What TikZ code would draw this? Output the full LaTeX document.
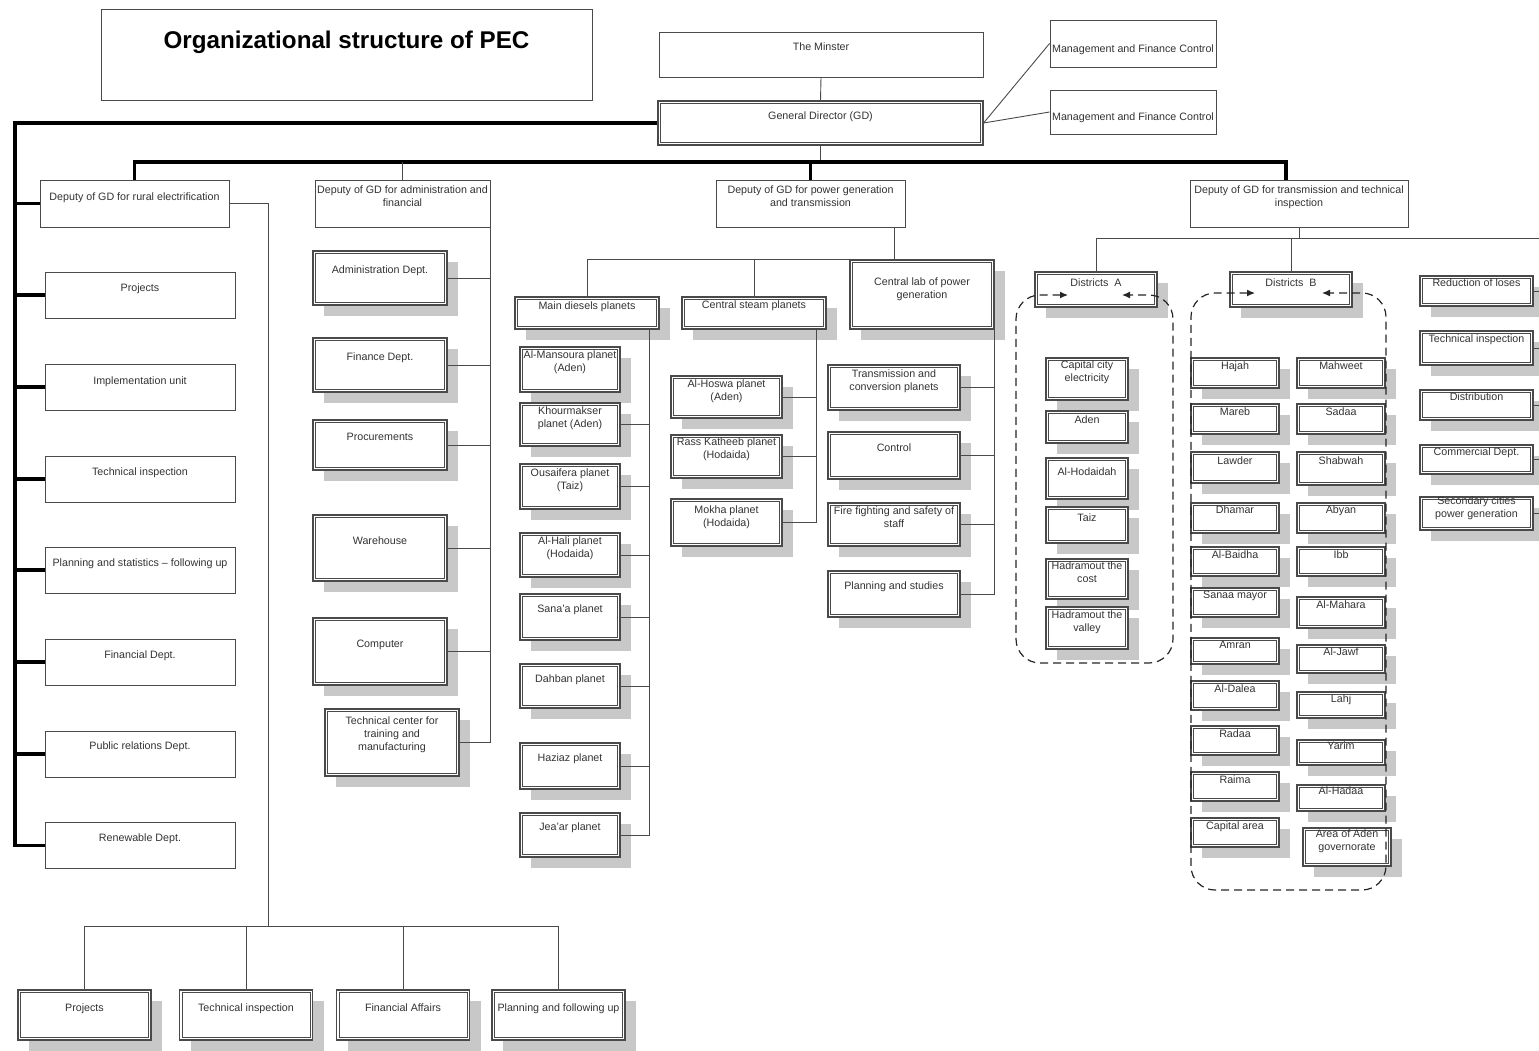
\documentclass[tikz,border=0pt]{standalone}
\usepackage{fontspec}
\setmainfont{Liberation Sans}
\usetikzlibrary{shadows,arrows.meta}

\definecolor{txtgray}{HTML}{333333}
\definecolor{linegray}{HTML}{4A4A4A}
\definecolor{shadegray}{HTML}{C8C8C8}
\newcommand{\unitfont}{\fontsize{10.7}{13}\selectfont}

\tikzset{
  lbl/.style={anchor=north, align=center, inner sep=0pt, text=txtgray, font=\unitfont},
  tx/.style 2 args={label={[lbl, yshift=-#1pt]north:{#2}}},
  plain/.style={draw=linegray, line width=0.9pt, fill=white, inner sep=0pt},
  twin/.style={draw=linegray, line width=1.1pt, fill=white, inner sep=0pt,
    path picture={\draw[linegray, line width=0.7pt]
      ([xshift=2.4pt, yshift=-2.4pt]path picture bounding box.north west) rectangle
      ([xshift=-2.4pt, yshift=2.4pt]path picture bounding box.south east);}},
  unit/.style={twin, drop shadow={shadow xshift=11pt, shadow yshift=-11pt, fill=shadegray, opacity=1}},
  ruralunit/.style={plain, minimum width=190, minimum height=46},
  admunit/.style={unit, minimum width=134},
  dieselunit/.style={unit, minimum width=100},
  steamunit/.style={unit, minimum width=111},
  labunit/.style={unit, minimum width=132},
  distAunit/.style={unit, minimum width=82},
  distBunit/.style={unit, minimum width=88, minimum height=30},
  rightunit/.style={unit, minimum width=113},
  lowunit/.style={unit, minimum width=133, minimum height=50},
  conn/.style={draw=linegray, line width=0.9pt},
  trunk/.style={draw=black, line width=3.6pt},
  group/.style={draw=black!85, line width=1.2pt, dash pattern=on 8pt off 5pt, rounded corners=24pt,
    {Latex[length=8pt,width=7pt]}-{Latex[length=8pt,width=7pt]}},
}

\begin{document}
\begin{tikzpicture}[x=1pt, y=-1pt]
\useasboundingbox (0,0) rectangle (1539,1050);

% top of the chart
\node[plain, minimum width=491, minimum height=91,
  label={[lbl, font=\fontsize{24.2}{28}\selectfont\bfseries, text=black, yshift=-22pt]north:Organizational structure of PEC}] (Title) at (346.5,54.5) {};
\node[plain, minimum width=324, minimum height=45, tx={11}{The Minster}] (Minster) at (821,54.5) {};
\node[twin, minimum width=325, minimum height=44, tx={11}{General Director (GD)}] (GD) at (820.5,123) {};
\node[plain, minimum width=166, minimum height=47, tx={25}{Management and Finance Control}] (Control A) at (1133,43.5) {};
\node[plain, minimum width=166, minimum height=44, tx={23}{Management and Finance Control}] (Control B) at (1133,112) {};

% deputies
\node[plain, minimum width=189, minimum height=47, tx={13}{Deputy of GD for rural electrification}] (Rural Deputy) at (134.5,203.5) {};
\node[plain, minimum width=175, minimum height=47, tx={6}{Deputy of GD for administration and\\financial}] (Admin Deputy) at (402.5,203.5) {};
\node[plain, minimum width=189, minimum height=47, tx={6}{Deputy of GD for power generation\\and transmission}] (Power Deputy) at (810.5,203.5) {};
\node[plain, minimum width=218, minimum height=47, tx={6}{Deputy of GD for transmission and technical\\inspection}] (Grid Deputy) at (1299,203.5) {};

% rural electrification
\node[ruralunit, tx={12}{Projects}] (Rural Projects) at (140,295) {};
\node[ruralunit, tx={13}{Implementation unit}] (Implementation) at (140,387) {};
\node[ruralunit, tx={12}{Technical inspection}] (Rural Inspection) at (140,479) {};
\node[ruralunit, tx={12}{Planning and statistics – following up}] (Rural Planning) at (140,570) {};
\node[ruralunit, tx={12}{Financial Dept.}] (Rural Finance) at (140,662) {};
\node[ruralunit, tx={11}{Public relations Dept.}] (Public Relations) at (140,754) {};
\node[ruralunit, tx={11}{Renewable Dept.}] (Renewable) at (140,845.5) {};

\node[lowunit, tx={14}{Projects}] (Low Projects) at (84.5,1015) {};
\node[lowunit, tx={14}{Technical inspection}] (Low Inspection) at (246,1015) {};
\node[lowunit, tx={14}{Financial Affairs}] (Financial Affairs) at (403,1015) {};
\node[lowunit, tx={14}{Planning and following up}] (Low Planning) at (558.5,1015) {};

% administration and financial
\node[admunit, minimum height=54, tx={15}{Administration Dept.}] (Administration) at (380,278) {};
\node[admunit, minimum height=54, tx={15}{Finance Dept.}] (Finance) at (380,365) {};
\node[admunit, minimum height=50, tx={13}{Procurements}] (Procurements) at (380,445) {};
\node[admunit, minimum height=66, tx={22}{Warehouse}] (Warehouse) at (380,548) {};
\node[admunit, minimum height=67, tx={22}{Computer}] (Computer) at (380,651.5) {};
\node[admunit, minimum height=67, tx={8}{Technical center for\\training and\\manufacturing}] (Training Center) at (392,742.5) {};

% power generation
\node[unit, minimum width=144, minimum height=32, tx={5}{Main diesels planets}] (Diesel) at (587,313) {};
\node[unit, minimum width=144, minimum height=32, tx={4}{Central steam planets}] (Steam) at (754,313) {};
\node[unit, minimum width=144, minimum height=69, tx={18}{Central lab of power\\generation}] (Lab) at (922,294.5) {};

\node[dieselunit, minimum height=45, tx={4}{Al-Mansoura planet\\(Aden)}] (Mansoura) at (570,369.5) {};
\node[dieselunit, minimum height=43, tx={4}{Khourmakser\\planet (Aden)}] (Khourmakser) at (570,424.5) {};
\node[dieselunit, minimum height=45, tx={5}{Ousaifera planet\\(Taiz)}] (Ousaifera) at (570,486.5) {};
\node[dieselunit, minimum height=44, tx={4}{Al-Hali planet\\(Hodaida)}] (AlHali) at (570,555) {};
\node[dieselunit, minimum height=46, tx={11}{Sana'a planet}] (Sanaa Plant) at (570,617) {};
\node[dieselunit, minimum height=44, tx={11}{Dahban planet}] (Dahban) at (570,686) {};
\node[dieselunit, minimum height=46, tx={11}{Haziaz planet}] (Haziaz) at (570,766) {};
\node[dieselunit, minimum height=44, tx={10}{Jea'ar planet}] (Jeaar) at (570,835) {};

\node[steamunit, minimum height=42, tx={4}{Al-Hoswa planet\\(Aden)}] (Hoswa) at (726.5,397) {};
\node[steamunit, minimum height=43, tx={3}{Rass Katheeb planet\\(Hodaida)}] (Katheeb) at (726.5,456.5) {};
\node[steamunit, minimum height=47, tx={7}{Mokha planet\\(Hodaida)}] (Mokha) at (726.5,522.5) {};

\node[labunit, minimum height=45, tx={5}{Transmission and\\conversion planets}] (Conversion) at (894,387.5) {};
\node[labunit, minimum height=47, tx={12}{Control}] (Lab Control) at (894,455.5) {};
\node[labunit, minimum height=43, tx={4}{Fire fighting and safety of\\staff}] (Fire Fighting) at (894,524.5) {};
\node[labunit, minimum height=46, tx={11}{Planning and studies}] (Studies) at (894,594) {};

% transmission and technical inspection
\node[unit, minimum width=122, minimum height=35, tx={7}{Districts~~A}] (Districts A) at (1096,289.5) {};
\node[unit, minimum width=122, minimum height=35, tx={7}{Districts~~B}] (Districts B) at (1291,289.5) {};

\node[distAunit, minimum height=42, tx={3}{Capital city\\electricity}] (Capital City) at (1087,379) {};
\node[distAunit, minimum height=32, tx={5}{Aden}] (Aden) at (1087,427) {};
\node[distAunit, minimum height=41, tx={10}{Al-Hodaidah}] (Hodaidah) at (1087,478.5) {};
\node[distAunit, minimum height=36, tx={7}{Taiz}] (Taiz) at (1087,525) {};
\node[distAunit, minimum height=40, tx={3}{Hadramout the\\cost}] (Hadramout Coast) at (1087,579) {};
\node[distAunit, minimum height=42, tx={4}{Hadramout the\\valley}] (Hadramout Valley) at (1087,628) {};

\node[distBunit, tx={4}{Hajah}] (Hajah) at (1235,373) {};
\node[distBunit, tx={4}{Mareb}] (Mareb) at (1235,419) {};
\node[distBunit, minimum height=31, tx={5}{Lawder}] (Lawder) at (1235,467.5) {};
\node[distBunit, tx={3}{Dhamar}] (Dhamar) at (1235,518) {};
\node[distBunit, minimum height=29, tx={4}{Al-Baidha}] (Baidha) at (1235,561.5) {};
\node[distBunit, minimum height=29, tx={3}{Sanaa mayor}] (Sanaa Mayor) at (1235,602.5) {};
\node[distBunit, minimum height=26, tx={3}{Amran}] (Amran) at (1235,651) {};
\node[distBunit, minimum height=29, tx={4}{Al-Dalea}] (Dalea) at (1235,695.5) {};
\node[distBunit, minimum height=29, tx={4}{Radaa}] (Radaa) at (1235,740.5) {};
\node[distBunit, minimum height=29, tx={4}{Raima}] (Raima) at (1235,786.5) {};
\node[distBunit, minimum height=29, tx={4}{Capital area}] (Capital Area) at (1235,832.5) {};

\node[distBunit, tx={4}{Mahweet}] (Mahweet) at (1341,373) {};
\node[distBunit, tx={4}{Sadaa}] (Sadaa) at (1341,419) {};
\node[distBunit, minimum height=33, tx={5}{Shabwah}] (Shabwah) at (1341,468.5) {};
\node[distBunit, tx={3}{Abyan}] (Abyan) at (1341,518) {};
\node[distBunit, minimum height=29, tx={4}{Ibb}] (Ibb) at (1341,561.5) {};
\node[distBunit, minimum height=31, tx={4}{Al-Mahara}] (Mahara) at (1341,612.5) {};
\node[distBunit, minimum height=28, tx={3}{Al-Jawf}] (Jawf) at (1341,659) {};
\node[distBunit, minimum height=26, tx={3}{Lahj}] (Lahj) at (1341,705) {};
\node[distBunit, minimum height=25, tx={2}{Yarim}] (Yarim) at (1341,752.5) {};
\node[distBunit, minimum height=26, tx={2}{Al-Hadaa}] (Hadaa) at (1341,798) {};
\node[distBunit, minimum height=38, tx={2}{Area of Aden\\governorate}] (Aden Area) at (1347,847) {};

\node[rightunit, minimum height=30, tx={3}{Reduction of loses}] (Reduction) at (1476.5,291) {};
\node[rightunit, minimum height=34, tx={4}{Technical inspection}] (Grid Inspection) at (1476.5,348) {};
\node[rightunit, minimum height=30, tx={3}{Distribution}] (Distribution) at (1476.5,405) {};
\node[rightunit, minimum height=29, tx={3}{Commercial Dept.}] (Commercial) at (1476.5,459.5) {};
\node[rightunit, minimum height=33, tx={0}{Secondary cities\\power generation}] (Secondary) at (1476.5,513.5) {};

% connectors
\coordinate (busR) at (1286,162);
\coordinate (spine) at (15,123);
\coordinate (rural bus) at (268,926);
\coordinate (power drop) at (894,0);
\coordinate (diesel spine) at (649,0);
\coordinate (steam spine) at (816,0);
\coordinate (grid bus) at (1539,238);

\draw[conn] (Minster.south) -- (GD.north);
\draw[conn] (GD.east) -- (Control A.west);
\draw[conn] (GD.east) -- (Control B.west);
\draw[conn] (GD.south) -- (GD.south |- busR);
\draw[trunk] (Rural Deputy.north) |- (busR) -- (busR |- Grid Deputy.north);
\draw[trunk] (Power Deputy.north) -- (Power Deputy.north |- busR);
\draw[conn] (Admin Deputy.north) -- (Admin Deputy.north |- busR);

\draw[trunk] (GD.west) -- (spine) |- (Renewable.west);
\foreach \n in {Rural Deputy, Rural Projects, Implementation, Rural Inspection, Rural Planning, Rural Finance, Public Relations}
  \draw[trunk] (spine |- \n.west) -- (\n.west);

\draw[conn] (Rural Deputy.east) -| (rural bus);
\draw[conn] (Low Projects.north |- rural bus) -- (Low Planning.north |- rural bus);
\foreach \n in {Low Projects, Low Inspection, Financial Affairs, Low Planning}
  \draw[conn] (\n.north |- rural bus) -- (\n.north);

\draw[conn] (Admin Deputy.south east) |- (Training Center.east);
\foreach \n in {Administration, Finance, Procurements, Warehouse, Computer}
  \draw[conn] (\n.east) -- (\n.east -| Admin Deputy.south east);

\draw[conn] (power drop |- Power Deputy.south) -- (power drop |- Lab.north);
\draw[conn] (Diesel.north) |- (Lab.north east) |- (Studies.east);
\draw[conn] (Steam.north) -- (Steam.north |- Lab.north);
\foreach \n in {Conversion, Lab Control, Fire Fighting}
  \draw[conn] (\n.east) -- (\n.east -| Lab.east);

\draw[conn] (diesel spine |- Diesel.south) |- (Jeaar.east);
\foreach \n in {Khourmakser, Ousaifera, AlHali, Sanaa Plant, Dahban, Haziaz}
  \draw[conn] (\n.east) -- (\n.east -| diesel spine);

\draw[conn] (steam spine |- Steam.south) |- (Mokha.east);
\foreach \n in {Hoswa, Katheeb}
  \draw[conn] (\n.east) -- (\n.east -| steam spine);

\draw[conn] (Grid Deputy.south) -- (Grid Deputy.south |- grid bus);
\draw[conn] (Districts A.north) |- (grid bus);
\draw[conn] (Districts B.north) -- (Districts B.north |- grid bus);
\foreach \n in {Reduction, Grid Inspection, Distribution, Commercial, Secondary}
  \draw[conn] (\n.east) -- (\n.east -| grid bus);

% district groups
\coordinate (A in L) at (1068,295);
\coordinate (A in R) at (1122,295);
\coordinate (B in L) at (1255,293);
\coordinate (B in R) at (1322,293);
\draw[group] (A in L) -| (1016,663) -| (1173,295) -- (A in R);
\draw[group] (B in L) -| (1191,890) -| (1386,293) -- (B in R);
\end{tikzpicture}
\end{document}
